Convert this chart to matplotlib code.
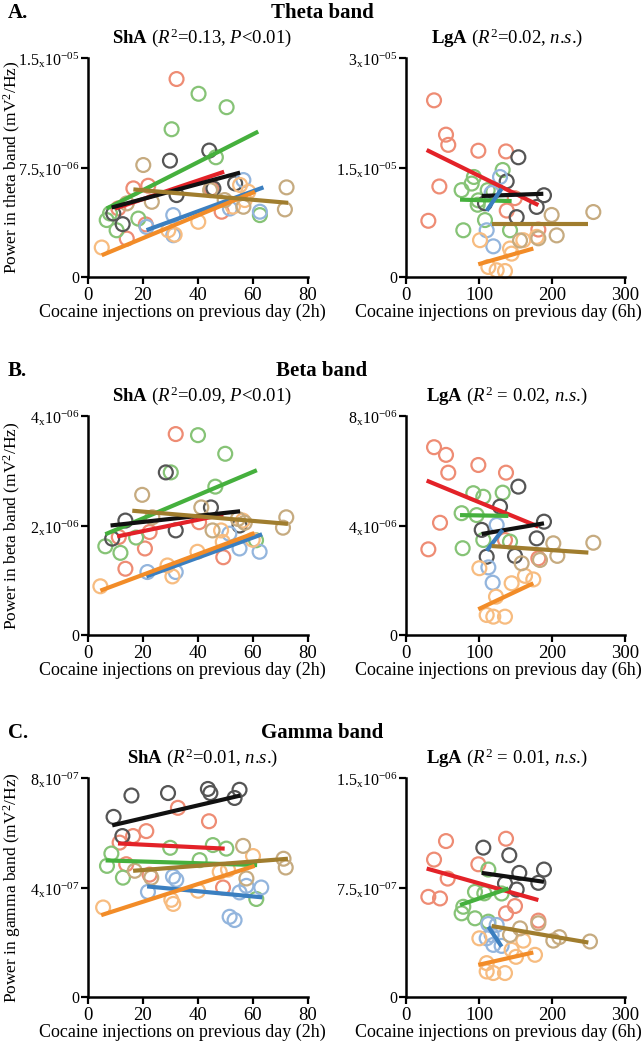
import matplotlib
matplotlib.use('Agg')
import matplotlib.pyplot as plt

plt.rcParams['font.family'] = 'Liberation Serif'
plt.rcParams['mathtext.fontset'] = 'custom'
plt.rcParams['mathtext.rm'] = 'Liberation Serif'
plt.rcParams['mathtext.it'] = 'Liberation Serif:italic'
plt.rcParams['mathtext.bf'] = 'Liberation Serif:bold'

# group order for every panel: red, green, black, blue, orange, brown
group_names = ['red', 'green', 'black', 'blue', 'orange', 'brown']
marker_colors = ['#ee8c74', '#86c376', '#555555', '#93b5dd', '#f7bc80', '#c6ab80']
line_colors = ['#e32228', '#45b03d', '#111111', '#3b7fc0', '#f28c28', '#a07d2e']

# ---- Theta band (values in 1e-6 mV2/Hz)
theta_sha_x = [[32.2, 16.5, 21.9, 14.1, 11.0, 48.6, 21.0, 44.8],
               [40.2, 50.4, 30.4, 46.5, 6.8, 8.0, 18.3, 10.4, 62.5],
               [44.1, 29.8, 9.2, 12.6, 32.2, 45.6, 53.5],
               [31.0, 31.0, 56.5, 62.5, 51.6, 21.3],
               [5.0, 29.2, 40.1, 55.3, 58.3, 31.5, 52.7, 57.0],
               [20.1, 72.2, 71.6, 23.2, 56.5, 44.4, 14.1, 49.7]]
theta_sha_y = [[13.56, 6.07, 6.25, 2.63, 4.7, 4.47, 3.6, 6.07],
               [12.55, 11.63, 10.12, 8.2, 3.9, 4.35, 4.0, 3.2, 4.24],
               [8.66, 7.97, 4.35, 3.62, 5.61, 6.07, 6.41],
               [2.86, 4.24, 6.64, 4.47, 4.69, 3.43],
               [2.02, 3.2, 3.78, 6.30, 5.84, 2.9, 4.82, 5.27],
               [7.67, 6.14, 4.63, 5.15, 4.81, 5.95, 5.04, 5.27]]
theta_sha_fit = [(9.8, 49.5, 4.69, 7.21), (6.8, 61.9, 4.69, 9.96), (8.6, 55.3, 4.76, 7.15),
                 (21.3, 63.8, 3.21, 6.14), (5.0, 60.7, 1.49, 5.84), (16.5, 72.8, 6.0, 5.08)]

theta_lga_x = [[38.4, 54.8, 57.9, 99.1, 137.0, 45.7, 30.6, 149.0, 181.3, 138.0],
               [132.4, 93.0, 76.2, 90.0, 99.1, 108.2, 78.5, 142.5, 119.6, 111.9, 98.2],
               [153.9, 137.9, 189.0, 179.0, 151.6, 108.2],
               [110.5, 119.6, 128.8, 117.3],
               [101.4, 112.8, 124.2, 135.6, 142.5, 160.7, 179.0, 144.7],
               [256.6, 199.5, 206.4, 181.3, 156.2]]
theta_lga_y = [[24.2, 19.5, 18.1, 17.3, 17.2, 12.4, 7.7, 10.8, 6.5, 9.1],
               [14.66, 13.7, 11.9, 12.8, 10.5, 7.8, 6.4, 6.4, 11.7, 11.9, 9.9],
               [16.4, 13.1, 11.2, 9.6, 8.2, 10.1],
               [6.4, 4.2, 13.7, 11.5],
               [5.04, 1.37, 0.92, 0.82, 3.9, 5.04, 5.5, 3.2],
               [8.9, 8.5, 5.7, 5.3, 5.0]]
theta_lga_fit = [(28.3, 181.3, 17.4, 9.85), (74.0, 144.7, 10.6, 10.4), (103.7, 188.1, 11.1, 11.4),
                 (110.5, 131.0, 9.07, 12.1), (99.0, 174.4, 1.74, 3.9), (117.3, 249.8, 7.2, 7.2)]

# ---- Beta band (values in 1e-6 mV2/Hz)
beta_sha_x = [[31.9, 13.6, 20.7, 22.4, 40.4, 49.2, 11.2],
              [40.0, 49.9, 30.1, 46.3, 6.3, 11.8, 17.5, 61.1],
              [28.3, 31.9, 8.8, 13.6, 44.7, 55.1],
              [31.9, 21.6, 62.4, 55.1, 51.4],
              [4.5, 30.7, 28.9, 39.8, 48.4, 56.3, 59.9, 49.0],
              [19.7, 72.1, 70.9, 23.4, 45.3, 57.0, 41.2, 54.5]]
beta_sha_y = [[3.67, 1.21, 1.58, 1.88, 2.06, 1.42, 1.79],
              [3.65, 3.31, 2.97, 2.71, 1.62, 1.50, 1.78, 1.73],
              [2.97, 1.91, 1.76, 2.09, 2.33, 2.0],
              [1.15, 1.15, 1.52, 1.58, 1.85],
              [0.89, 1.07, 1.27, 1.52, 1.91, 2.09, 1.74, 1.70],
              [2.56, 2.15, 1.96, 2.15, 1.91, 2.05, 2.33, 2.12]]
beta_sha_fit = [(10.6, 49.2, 1.80, 2.20), (6.3, 61.4, 1.84, 3.01), (8.2, 55.3, 2.0, 2.26),
                (21.2, 63.3, 1.07, 1.84), (4.5, 60.5, 0.81, 1.86), (16.1, 72.7, 2.27, 2.03)]

beta_lga_x = [[38.4, 54.8, 57.9, 99.1, 137.0, 46.6, 30.6, 135.6, 181.3],
              [132.4, 92.2, 105.9, 76.2, 96.8, 77.6, 105.9, 142.5],
              [153.9, 128.8, 189.0, 179.0, 149.3, 110.5, 103.7],
              [112.8, 118.7, 124.2],
              [100.5, 110.5, 119.6, 135.6, 123.3, 144.7, 163.0, 174.4],
              [256.6, 201.8, 207.3, 158.4, 183.5]]
beta_lga_y = [[6.86, 6.58, 5.93, 6.21, 5.93, 4.10, 3.13, 3.47, 2.80],
              [5.20, 5.18, 5.05, 4.45, 4.38, 3.17, 3.47, 3.41],
              [5.42, 4.69, 4.14, 3.53, 2.89, 2.86, 3.84],
              [2.47, 1.91, 4.02],
              [2.44, 0.73, 0.67, 0.67, 1.40, 1.89, 2.16, 2.03],
              [3.37, 3.35, 2.89, 2.62, 2.74]]
beta_lga_fit = [(28.3, 181.3, 5.64, 3.96), (74.0, 140.2, 4.38, 4.35), (103.7, 189.0, 3.69, 4.08),
                (110.5, 132.4, 3.08, 3.84), (99.0, 174.4, 0.94, 1.89), (117.3, 249.8, 3.25, 3.01)]

# ---- Gamma band (values in 1e-7 mV2/Hz)
gamma_sha_x = [[32.7, 44.0, 21.2, 16.4, 11.5, 13.9, 49.1, 22.4],
               [8.5, 6.9, 12.7, 29.9, 45.4, 50.3, 40.6, 61.2],
               [9.3, 15.8, 29.1, 43.6, 44.5, 55.1, 53.3, 12.5],
               [21.8, 30.9, 32.1, 51.5, 53.3, 55.1, 57.6, 63.0],
               [5.5, 30.3, 40.0, 47.9, 60.0, 31.0, 50.9],
               [71.1, 71.9, 56.4, 17.0, 23.0, 57.6]]
gamma_sha_y = [[6.91, 6.42, 6.06, 5.88, 5.64, 4.85, 4.0, 4.47],
               [5.24, 4.79, 4.36, 5.45, 5.55, 5.42, 5.0, 3.58],
               [6.58, 7.36, 7.45, 7.60, 7.45, 7.57, 7.27, 5.88],
               [3.84, 4.40, 4.28, 2.93, 2.81, 3.82, 4.06, 4.0],
               [3.27, 3.55, 3.88, 4.57, 5.15, 3.4, 4.65],
               [5.05, 4.73, 5.52, 4.61, 4.36, 4.33]]
gamma_sha_fit = [(10.9, 49.7, 5.61, 5.42), (6.4, 61.5, 4.99, 4.82), (8.8, 55.4, 6.27, 7.36),
                 (21.5, 63.4, 4.04, 3.64), (4.8, 60.6, 2.99, 4.79), (16.4, 72.7, 4.61, 5.05)]

gamma_lga_x = [[54.8, 38.4, 57.1, 30.6, 46.6, 99.1, 137.0, 149.3, 137.0, 181.3],
               [112.8, 78.5, 76.2, 94.5, 94.5, 112.8, 131.0, 107.3],
               [105.9, 141.5, 155.2, 189.0, 181.3, 135.6, 151.6],
               [112.8, 124.2, 110.5, 119.6, 131.0, 117.3],
               [100.5, 110.5, 119.6, 135.6, 176.7, 160.7, 144.7, 110.5, 150.7],
               [252.0, 201.8, 181.3, 156.2, 142.5, 210.0]]
gamma_lga_y = [[10.68, 9.41, 8.11, 6.86, 6.75, 9.09, 10.84, 6.23, 5.73, 5.23],
               [8.73, 6.18, 5.73, 5.39, 7.2, 5.16, 7.09, 7.1],
               [10.23, 9.71, 8.50, 8.73, 7.82, 7.77, 7.36],
               [5.0, 4.93, 4.02, 3.57, 3.50, 4.25],
               [4.02, 1.75, 1.64, 1.64, 2.89, 3.86, 3.23, 2.32, 2.75],
               [3.80, 3.86, 5.05, 4.70, 4.25, 4.1]]
gamma_lga_fit = [(28.3, 181.3, 8.80, 6.64), (74.0, 140.2, 6.30, 7.43), (103.7, 189.0, 8.50, 7.89),
                 (112.8, 131.0, 4.82, 3.45), (99.0, 174.4, 2.20, 3.05), (117.3, 249.8, 4.86, 3.73)]

W, H = 644, 1050


def draw_panel(rect, xs, ys, fits, unit, xmax, xticks, ymax, yticklabels):
    left, top, w, h = rect
    ax = fig.add_axes([left / W, 1 - (top + h) / H, w / W, h / H])
    for gx, gy, mc in zip(xs, ys, marker_colors):
        ax.scatter(gx, [v * unit for v in gy], s=100, facecolors='none',
                   edgecolors=mc, linewidths=1.6, clip_on=False, zorder=2)
    for (x0, x1, y0, y1), lc in zip(fits, line_colors):
        ax.plot([x0, x1], [y0 * unit, y1 * unit], color=lc, lw=3.0,
                solid_capstyle='butt', zorder=3)
    ax.set_xlim(0, xmax)
    ax.set_ylim(0, ymax)
    ax.set_xticks(xticks)
    ax.set_yticks([0, ymax / 2, ymax])
    ax.set_yticklabels(yticklabels)
    ax.tick_params(direction='out', length=5, width=1.6, labelsize=13.5, pad=2)
    ax.tick_params(axis='y', labelsize=11.5, pad=1)
    for s in ['top', 'right']:
        ax.spines[s].set_visible(False)
    for s in ['left', 'bottom']:
        ax.spines[s].set_linewidth(1.8)
    return ax


def tick_lab(mant, exp):
    if mant == '0':
        return '0'
    return mant + r'$_{\mathregular{x}}$10$^{\mathregular{' + exp + '}}$'


fig = plt.figure(figsize=(6.44, 10.5), dpi=100)

ns = r'$\mathit{n}$.$\mathit{s}$.)'
rows = [
    ('A.', 'Theta band', 'theta', 0,
     theta_sha_x, theta_sha_y, theta_sha_fit, 1e-6, 15e-6, [('0', ''), ('7.5', '-06'), ('1.5', '-05')],
     theta_lga_x, theta_lga_y, theta_lga_fit, 1e-6, 30e-6, [('0', ''), ('1.5', '-05'), ('3', '-05')],
     r'$\mathbf{ShA}$ $\mathit{(R}^{\mathregular{2}}$=0.13, $\mathit{P}$<0.01)',
     r'$\mathbf{LgA}$ $\mathit{(R}^{\mathregular{2}}$=0.02, ' + ns),
    ('B.', 'Beta band', 'beta', 358,
     beta_sha_x, beta_sha_y, beta_sha_fit, 1e-6, 4e-6, [('0', ''), ('2', '-06'), ('4', '-06')],
     beta_lga_x, beta_lga_y, beta_lga_fit, 1e-6, 8e-6, [('0', ''), ('4', '-06'), ('8', '-06')],
     r'$\mathbf{ShA}$ $\mathit{(R}^{\mathregular{2}}$=0.09, $\mathit{P}$<0.01)',
     r'$\mathbf{LgA}$ $\mathit{(R}^{\mathregular{2}}$ = 0.02, ' + ns),
    ('C.', 'Gamma band', 'gamma', 720,
     gamma_sha_x, gamma_sha_y, gamma_sha_fit, 1e-7, 8e-7, [('0', ''), ('4', '-07'), ('8', '-07')],
     gamma_lga_x, gamma_lga_y, gamma_lga_fit, 1e-7, 15e-7, [('0', ''), ('7.5', '-07'), ('1.5', '-06')],
     r'$\mathbf{ShA}$ $\mathit{(R}^{\mathregular{2}}$=0.01, ' + ns,
     r'$\mathbf{LgA}$ $\mathit{(R}^{\mathregular{2}}$ = 0.01, ' + ns),
]

for (letter, band, bname, off, sx, sy, sfit, sunit, symax, sticks,
     lx, ly, lfit, lunit, lymax, lticks, stitle, ltitle) in rows:
    ax1 = draw_panel((88, 58 + off, 220, 219), sx, sy, sfit, sunit, 80, [0, 20, 40, 60, 80],
                     symax, [tick_lab(m, e) for m, e in sticks])
    ax2 = draw_panel((406, 58 + off, 219, 219), lx, ly, lfit, lunit, 300, [0, 100, 200, 300],
                     lymax, [tick_lab(m, e) for m, e in lticks])
    fig.text(8 / W, 1 - (13 + off) / H, letter, fontsize=15, fontweight='bold', va='center')
    fig.text(322 / W, 1 - (13 + off) / H, band, fontsize=15, fontweight='bold',
             va='center', ha='center')
    ax1.text(0.52, 1 + 20 / 219, stitle, transform=ax1.transAxes, fontsize=13.5,
             ha='center', va='center')
    ax2.text(0.46, 1 + 20 / 219, ltitle, transform=ax2.transAxes, fontsize=13.5,
             ha='center', va='center')
    ax1.text(-76 / 220, 0.5, 'Power in ' + bname + ' band (mV$^{\\mathregular{2}}$/Hz)',
             transform=ax1.transAxes, rotation=90, fontsize=12.5, ha='center', va='center')
    ax1.text(0.43, -35 / 219, 'Cocaine injections on previous day (2h)',
             transform=ax1.transAxes, fontsize=13, ha='center', va='center')
    ax2.text(0.42, -35 / 219, 'Cocaine injections on previous day (6h)',
             transform=ax2.transAxes, fontsize=13, ha='center', va='center')

fig.savefig('out.png', dpi=100)
